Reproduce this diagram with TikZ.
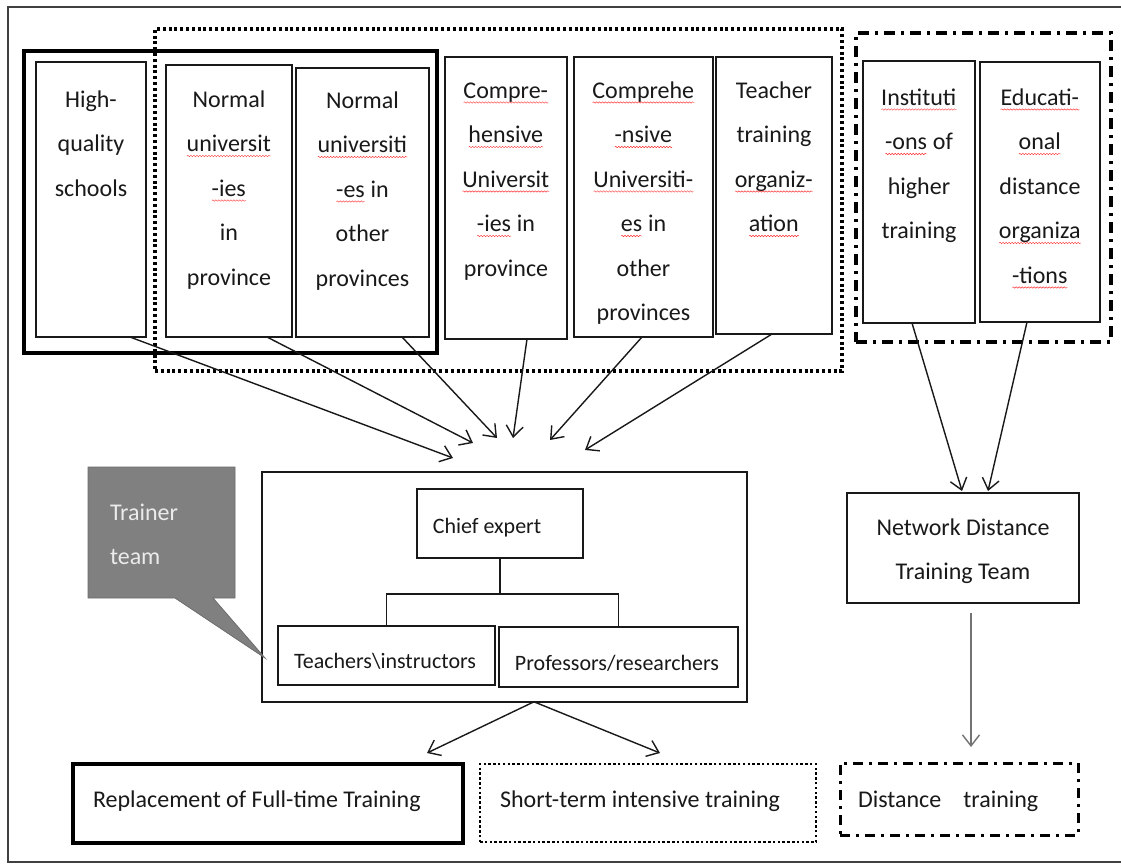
\documentclass[tikz,border=0pt]{standalone}
\usepackage{fontspec}
\setmainfont{Carlito}
\usetikzlibrary{arrows.meta,decorations.pathmorphing}
\newsavebox\sqbox
\newcommand\sq[1]{\sbox\sqbox{#1}\rlap{\usebox\sqbox}\tikz[baseline=0pt]\draw[red!80, line width=0.45pt, decorate, decoration={snake, amplitude=0.7pt, segment length=3pt}] (0pt,-4.5pt) -- (\wd\sqbox,-4.5pt);}
\begin{document}
\begin{tikzpicture}[x=1pt,y=-1pt,
  every node/.style={inner sep=0pt, outer sep=0pt},
  ibox/.style={draw=black!90, line width=1.6pt, rectangle},
  thickgrp/.style={draw=black, line width=3.8pt, rectangle},
  dotgrp/.style={draw=black, line width=3.2pt, dash pattern=on 3pt off 2.8pt, rectangle},
  ddgrp/.style={draw=black, line width=3.2pt, dash pattern=on 11pt off 6pt on 3pt off 6pt, rectangle},
  txt/.style={font=\fontsize{24}{44.5}\selectfont, text=black!90, align=center, anchor=north},
  one/.style={font=\fontsize{24}{28}\selectfont, text=black!90},
  two/.style={font=\fontsize{22}{26}\selectfont, text=black!90},
  arr/.style={-{Straight Barb[length=11pt,width=17pt]}, line width=1.4pt, draw=black!90},
  conn/.style={line width=1.6pt, draw=black!90}]
\useasboundingbox (0,0) rectangle (1121,865);
\fill[white] (0,0) rectangle (1121,865);
\clip (0,0) rectangle (1121,865);
\draw[line width=1.8pt, draw=black!75] (8,7) rectangle (1135,862);

% top boxes
\node[ibox, minimum width=110pt, minimum height=275pt] (hq) at (91,199.5) {};
\node[ibox, minimum width=126pt, minimum height=272pt] (np) at (229,201) {};
\node[ibox, minimum width=133pt, minimum height=269pt] (no) at (362.5,202.5) {};
\node[ibox, minimum width=122pt, minimum height=282pt] (cp) at (506,198) {};
\node[ibox, minimum width=139pt, minimum height=280pt] (co) at (643.5,197) {};
\node[ibox, minimum width=116pt, minimum height=277pt] (tt) at (774,195.5) {};
\node[ibox, minimum width=112pt, minimum height=262pt] (ih) at (919,192) {};
\node[ibox, minimum width=120pt, minimum height=260pt] (ed) at (1040,192) {};

% groups
\node[thickgrp, minimum width=413pt, minimum height=302pt] (g1) at (230.5,202) {};
\node[dotgrp, minimum width=687pt, minimum height=342pt] (g2) at (498.5,200) {};
\node[ddgrp, minimum width=255pt, minimum height=309pt] (g3) at (983.5,187.5) {};

% top texts
\node[txt] (hqt) at (91,89) {\rule{0pt}{18pt}High-\\quality\\schools};
\node[txt] (npt) at (229,89) {\rule{0pt}{18pt}Normal\\\sq{universit}\\\sq{-ies}\\in\\province};
\node[txt] (not) at (362.5,90) {\rule{0pt}{18pt}Normal\\\sq{universiti}\\\sq{-es} in\\other\\provinces};
\node[txt] (cpt) at (506,80) {\rule{0pt}{18pt}\sq{Compre-}\\\sq{hensive}\\\sq{Universit}\\\sq{-ies} in\\province};
\node[txt] (cot) at (643.5,80) {\rule{0pt}{18pt}\sq{Comprehe}\\\sq{-nsive}\\\sq{Universiti-}\\\sq{es} in\\other\\provinces};
\node[txt] (ttt) at (774,80) {\rule{0pt}{18pt}Teacher\\training\\\sq{organiz-}\\\sq{ation}};
\node[txt] (iht) at (919,87) {\rule{0pt}{18pt}\sq{Instituti}\\\sq{-ons} of\\higher\\training};
\node[txt] (edt) at (1040,87) {\rule{0pt}{18pt}\sq{Educati-}\\\sq{onal}\\distance\\\sq{organiza}\\\sq{-tions}};

% trainer team
\node[ibox, minimum width=485pt, minimum height=230pt] (trainer) at (504.5,587) {};
\node[ibox, minimum width=166pt, minimum height=69pt] (chief) at (500,523.5) {};
\node[ibox, minimum width=217pt, minimum height=59pt] (teach) at (386.5,655.5) {};
\node[ibox, minimum width=239pt, minimum height=60pt] (prof) at (618.5,657) {};
\node[two, anchor=base] (chieft) at (487,533) {Chief expert};
\node[two, anchor=base] (teacht) at (385,668) {Teachers\textbackslash instructors};
\node[two, anchor=base] (proft) at (617,670) {Professors/researchers};
\coordinate (jn) at (500,594);
\draw[conn] (chief.south) -- (jn);
\draw[conn] (teach.north) |- (jn) -| (prof.north);

% callout
\path[draw=black!58, fill=black!50, line width=0.8pt] (88,467) -- (235,467) -- (235,598) -- (213,598) -- (265,658) -- (175,598) -- (88,598) -- cycle;
\node[txt, align=left, anchor=north west, text=white!92!black] (callt) at (110,502) {\rule{0pt}{18pt}Trainer\\team};

% network team
\node[ibox, minimum width=232pt, minimum height=110pt] (net) at (963,548) {};
\node[txt] (nett) at (963,517) {\rule{0pt}{18pt}Network Distance\\Training Team};

% bottom boxes
\node[draw=black, line width=3.8pt, minimum width=390pt, minimum height=79pt] (rep) at (268,803.5) {};
\node[draw=black, line width=2.8pt, dash pattern=on 2.5pt off 2.3pt, minimum width=336pt, minimum height=78pt] (short) at (648,803) {};
\node[draw=black, line width=3pt, dash pattern=on 10pt off 6pt on 3pt off 6pt, minimum width=238pt, minimum height=72pt] (dist) at (959,799) {};
\node[one, anchor=base west] (rept) at (93,807) {Replacement of Full-time Training};
\node[one, anchor=base west] (shortt) at (500,807) {Short-term intensive training};
\node[one, anchor=base west] (distt) at (858,807) {Distance\hspace{22pt}training};

% arrow targets
\coordinate (t1) at (453,458);
\coordinate (t2) at (473,443);
\coordinate (t3) at (497,438);
\coordinate (t4) at (513,438);
\coordinate (t5) at (550,440);
\coordinate (t6) at (585,450);
\coordinate (t7) at (427,753);
\coordinate (t8) at (660,753);
\coordinate (t10) at (962,491);
\coordinate (t11) at (988,491);

\draw[arr] ([xshift=39pt]hq.south) -- (t1);
\draw[arr] ([xshift=38pt]np.south) -- (t2);
\draw[arr] ([xshift=39.5pt]no.south) -- (t3);
\draw[arr] ([xshift=21pt]cp.south) -- (t4);
\draw[arr] ([xshift=-1.5pt]co.south) -- (t5);
\draw[arr] ([xshift=-2pt]tt.south) -- (t6);
\draw[arr] ([xshift=-7pt]ih.south) -- (t10);
\draw[arr] ([xshift=-13pt]ed.south) -- (t11);
\draw[arr] ([xshift=29pt]trainer.south) -- (t7);
\draw[arr] ([xshift=30pt]trainer.south) -- (t8);
\draw[arr, draw=black!55] ([xshift=8pt,yshift=-10pt]net.south) -- ([xshift=12pt,yshift=16pt]dist.north);
\end{tikzpicture}
\end{document}
